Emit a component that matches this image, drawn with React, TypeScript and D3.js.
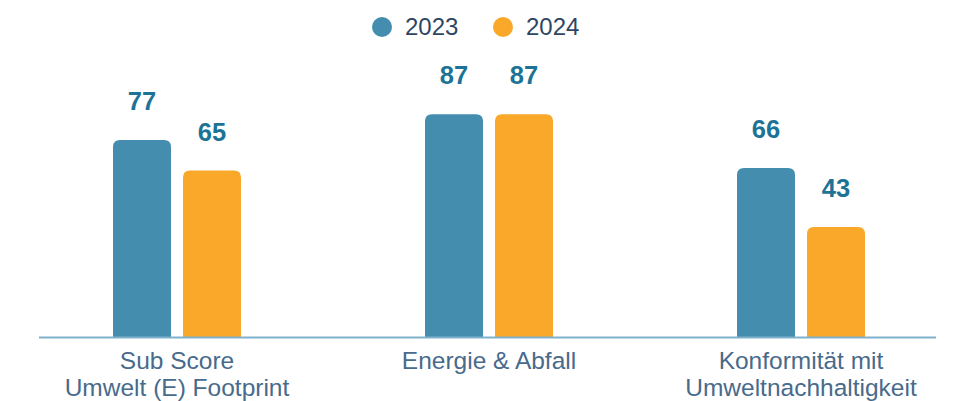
import React, { useEffect, useRef } from 'react';
import * as d3 from 'd3';

const categories = [
  ['Sub Score', 'Umwelt (E) Footprint'],
  ['Energie & Abfall'],
  ['Konformität mit', 'Umweltnachhaltigkeit'],
];
const years = ['2023', '2024'];
const values2023 = [77, 87, 66];
const values2024 = [65, 87, 43];
const colors = ['#448DAF', '#F9A82A'];

const W = 953;
const H = 401;

const topRounded = (x: number, y: number, w: number, h: number, r: number) => {
  const rr = Math.min(r, h, w / 2);
  return `M${x},${y + h}V${y + rr}Q${x},${y} ${x + rr},${y}H${x + w - rr}Q${x + w},${y} ${x + w},${y + rr}V${y + h}Z`;
};

const App: React.FC = () => {
  const svgRef = useRef<SVGSVGElement>(null);

  useEffect(() => {
    if (!svgRef.current) return;
    const svg = d3.select(svgRef.current);
    svg.selectAll('*').remove();

    const baseline = 337;
    const keys = categories.map((_, i) => String(i));
    const x0 = d3.scaleBand().domain(keys).range([21, 957]).padding(0);
    const x1 = d3.scaleBand().domain(years).range([0, 128]).paddingInner(12 / 70);
    const y = d3.scaleLinear().domain([0, 100]).range([baseline, baseline - 256]);

    const series = [values2023, values2024];
    const rows = keys.map((k, i) => ({ key: k, vals: years.map((yr, j) => ({ yr, j, v: series[j][i] })) }));

    const g = svg.selectAll('g.grp').data(rows).enter().append('g')
      .attr('transform', d => `translate(${(x0(d.key) as number) + x0.bandwidth() / 2 - 64},0)`);

    g.selectAll('path').data(d => d.vals).enter().append('path')
      .attr('d', d => topRounded(x1(d.yr) as number, y(d.v), x1.bandwidth(), baseline - y(d.v), 7))
      .attr('fill', d => colors[d.j]);

    g.selectAll('text.val').data(d => d.vals).enter().append('text')
      .attr('class', 'val')
      .attr('x', d => (x1(d.yr) as number) + x1.bandwidth() / 2)
      .attr('y', d => y(d.v) - 30)
      .attr('text-anchor', 'middle')
      .attr('font-family', 'Liberation Sans, Arial, sans-serif')
      .attr('font-weight', 'bold')
      .attr('font-size', 25.5)
      .attr('fill', '#1D7396')
      .text(d => d.v);

    svg.append('line')
      .attr('x1', 39).attr('x2', 936).attr('y1', baseline + 0.5).attr('y2', baseline + 0.5)
      .attr('stroke', '#7FB1CC').attr('stroke-width', 2);

    const lbl = svg.selectAll('text.cat').data(rows).enter().append('text')
      .attr('class', 'cat')
      .attr('text-anchor', 'middle')
      .attr('font-family', 'Liberation Sans, Arial, sans-serif')
      .attr('font-size', 24.5)
      .attr('fill', '#486A8B');
    lbl.each(function (d, i) {
      const cx = (x0(d.key) as number) + x0.bandwidth() / 2;
      categories[i].forEach((line, li) => {
        d3.select(this).append('tspan').attr('x', cx).attr('y', 369 + li * 27).text(line);
      });
    });

    // legend
    const legend = svg.append('g');
    const legendX = [382, 503];
    years.forEach((yr, i) => {
      legend.append('circle').attr('cx', legendX[i]).attr('cy', 27).attr('r', 10).attr('fill', colors[i]);
      legend.append('text').attr('x', legendX[i] + 23).attr('y', 35)
        .attr('font-family', 'Liberation Sans, Arial, sans-serif')
        .attr('font-size', 24).attr('fill', '#2E4661').text(yr);
    });
  }, []);

  return (
    <div style={{ position: 'absolute', left: 0, top: 0, width: W, height: H, background: '#fff' }}>
      <svg ref={svgRef} width={W} height={H}></svg>
    </div>
  );
};

export default App;
